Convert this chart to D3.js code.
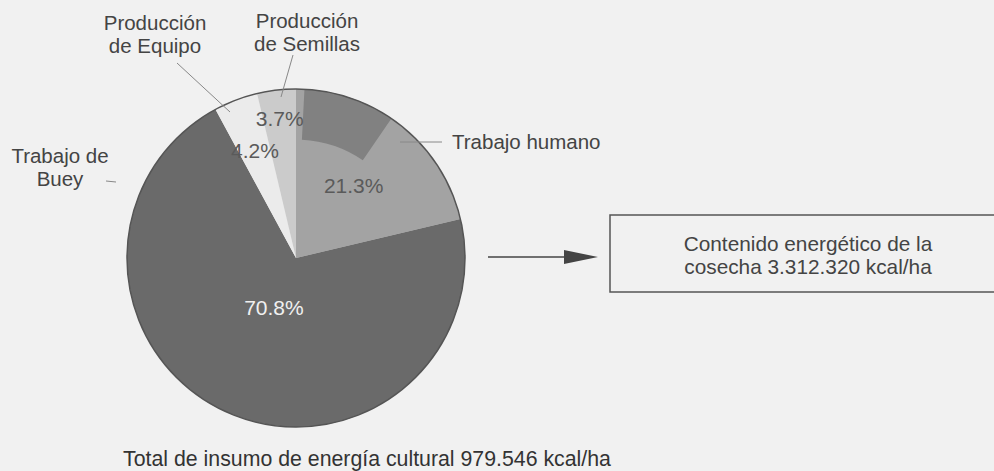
<!DOCTYPE html>
<html>
<head>
<meta charset="utf-8">
<script src="https://cdn.jsdelivr.net/npm/d3@7"></script>
<style>
  body { margin: 0; background: #f1f1f1; }
  svg { display: block; font-family: "Liberation Sans", Arial, sans-serif; }
</style>
</head>
<body>
<svg id="chart"></svg>
<script>
// data (clockwise from 12 o'clock)
const categories = ["Trabajo humano", "Trabajo de Buey", "Producción de Equipo", "Producción de Semillas"];
const shares = [21.3, 70.8, 4.2, 3.7];
const sliceLabels = ["21.3%", "70.8%", "4.2%", "3.7%"];
const totalText = "Total de insumo de energía cultural 979.546 kcal/ha";
const outputText = ["Contenido energético de la", "cosecha 3.312.320 kcal/ha"];

const W = 994, H = 471;
const cx = 296, cy = 258, radius = 169;

const svg = d3.select("#chart")
  .attr("width", W)
  .attr("height", H)
  .attr("viewBox", `0 0 ${W} ${H}`);

const color = d3.scaleOrdinal()
  .domain(categories)
  .range(["#a3a3a3", "#6a6a6a", "#ebebeb", "#cbcbcb"]);

const textColor = d3.scaleOrdinal()
  .domain(categories)
  .range(["#5a5a5a", "#f0f0f0", "#5a5a5a", "#5a5a5a"]);

// how far out each percentage sits, as a fraction of the radius
const labelPos = d3.scaleOrdinal()
  .domain(categories)
  .range([0.55, 0.32, 0.68, 0.83]);

const data = categories.map((c, i) => ({ id: c, value: shares[i], label: sliceLabels[i] }));

const pie = d3.pie().sort(null).value(d => d.value);
const arc = d3.arc().innerRadius(0).outerRadius(radius);
const arcs = pie(data);

const g = svg.append("g").attr("transform", `translate(${cx},${cy})`);

g.selectAll("path.slice")
  .data(arcs)
  .enter()
  .append("path")
  .attr("class", "slice")
  .attr("d", arc)
  .attr("fill", d => color(d.data.id));

// darker patch along the top of the human-labour wedge, as in the print
const patch = d3.arc().innerRadius(radius * 0.7).outerRadius(radius);
g.append("path")
  .attr("d", patch({ startAngle: arcs[0].startAngle + 0.05, endAngle: arcs[0].startAngle + 0.6 }))
  .attr("fill", "#767676")
  .attr("opacity", 0.75);

g.append("circle")
  .attr("r", radius)
  .attr("fill", "none")
  .attr("stroke", "#555")
  .attr("stroke-width", 1.5);

g.selectAll("text.pct")
  .data(arcs)
  .enter()
  .append("text")
  .attr("class", "pct")
  .attr("transform", d => {
    const r = radius * labelPos(d.data.id);
    const a = (d.startAngle + d.endAngle) / 2;
    return `translate(${Math.sin(a) * r},${-Math.cos(a) * r})`;
  })
  .attr("text-anchor", "middle")
  .attr("dominant-baseline", "central")
  .attr("font-size", 21)
  .attr("fill", d => textColor(d.data.id))
  .text(d => d.data.label);

// category labels with leader lines
const names = [
  { lines: ["Producción", "de Equipo"], x: 155, y: 22, lead: [[177, 63], [230, 112]] },
  { lines: ["Producción", "de Semillas"], x: 307, y: 20, lead: [[293, 55], [281, 97]] },
  { lines: ["Trabajo de", "Buey"], x: 60, y: 155, lead: [[106, 181], [116, 182]] },
  { lines: ["Trabajo humano"], x: 452, y: 141, anchor: "start", lead: [[400, 142], [442, 142]] }
];

const lab = svg.selectAll("g.name")
  .data(names)
  .enter()
  .append("g")
  .attr("class", "name");

lab.append("path")
  .attr("d", d => d3.line()(d.lead))
  .attr("stroke", "#888")
  .attr("stroke-width", 1)
  .attr("fill", "none");

lab.each(function(d) {
  const t = d3.select(this).append("text")
    .attr("text-anchor", d.anchor || "middle")
    .attr("font-size", 20.5)
    .attr("fill", "#444");
  d.lines.forEach((l, i) => {
    t.append("tspan")
      .attr("x", d.x)
      .attr("y", d.y + i * 23)
      .attr("dominant-baseline", "central")
      .text(l);
  });
});

// arrow to the harvest box
const ay = 257;
svg.append("line")
  .attr("x1", 488).attr("x2", 566)
  .attr("y1", ay).attr("y2", ay)
  .attr("stroke", "#444")
  .attr("stroke-width", 1.3);
svg.append("path")
  .attr("d", `M564,${ay - 7}L598,${ay}L564,${ay + 7}Z`)
  .attr("fill", "#444");

svg.append("rect")
  .attr("x", 610).attr("y", 215)
  .attr("width", 400).attr("height", 77)
  .attr("fill", "none")
  .attr("stroke", "#555")
  .attr("stroke-width", 1.5);

svg.append("text")
  .attr("text-anchor", "middle")
  .attr("font-size", 20.8)
  .attr("fill", "#444")
  .selectAll("tspan")
  .data(outputText)
  .enter()
  .append("tspan")
  .attr("x", 808)
  .attr("y", (d, i) => 243 + i * 23)
  .attr("dominant-baseline", "central")
  .text(d => d);

svg.append("text")
  .attr("x", 367)
  .attr("y", 459)
  .attr("text-anchor", "middle")
  .attr("dominant-baseline", "central")
  .attr("font-size", 21.3)
  .attr("fill", "#333")
  .text(totalText);
</script>
</body>
</html>
